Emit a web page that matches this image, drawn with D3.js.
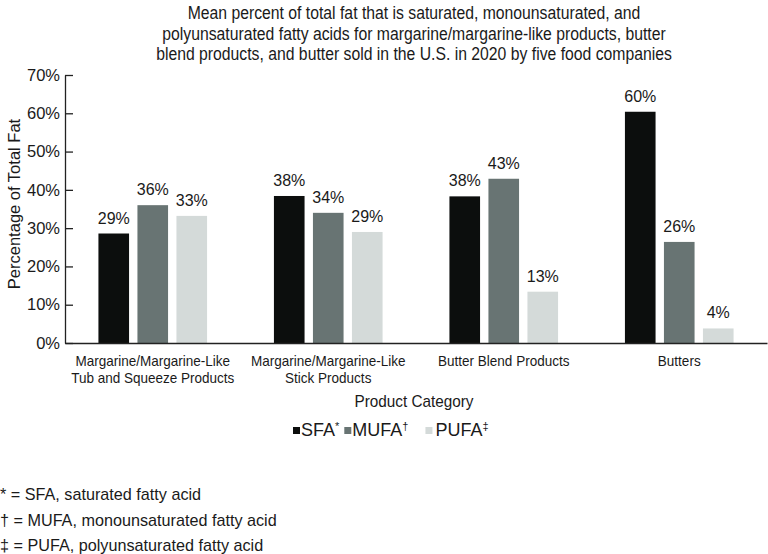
<!DOCTYPE html>
<html>
<head>
<meta charset="utf-8">
<script src="https://cdn.jsdelivr.net/npm/d3@7"></script>
<style>
  html, body { margin: 0; padding: 0; background: #fff; }
  text { font-family: "Liberation Sans", Arial, sans-serif; fill: #1a1a1a; }
</style>
</head>
<body>
<svg id="chart" width="768" height="554"></svg>
<script>
// ---- Data ----
const categories = [
  "Margarine/Margarine-Like Tub and Squeeze Products",
  "Margarine/Margarine-Like Stick Products",
  "Butter Blend Products",
  "Butters"
];
const categoryLabelLines = [
  ["Margarine/Margarine-Like", "Tub and Squeeze Products"],
  ["Margarine/Margarine-Like", "Stick Products"],
  ["Butter Blend Products"],
  ["Butters"]
];
const seriesNames = ["SFA", "MUFA", "PUFA"];
const seriesMarks = ["*", "†", "‡"];
const sfaValues  = [0.286, 0.384, 0.383, 0.604];
const mufaValues = [0.360, 0.340, 0.429, 0.264];
const pufaValues = [0.332, 0.290, 0.134, 0.038];
const yTicks = [0, 0.1, 0.2, 0.3, 0.4, 0.5, 0.6, 0.7];
const titleLines = [
  "Mean percent of total fat that is saturated, monounsaturated, and",
  "polyunsaturated fatty acids for margarine/margarine-like products, butter",
  "blend products, and butter sold in the U.S. in 2020 by five food companies"
];
const footnotes = [
  "* = SFA, saturated fatty acid",
  "† = MUFA, monounsaturated fatty acid",
  "‡ = PUFA, polyunsaturated fatty acid"
];

const colors = { SFA: "#0c0e0d", MUFA: "#687473", PUFA: "#d4dad9" };
const valuesBySeries = { SFA: sfaValues, MUFA: mufaValues, PUFA: pufaValues };

const svg = d3.select("#chart");
const plotLeft = 65, plotRight = 767, plotTop = 75, plotBottom = 343;
const condense = 0.9; // reference typeface is slightly condensed

function squeeze(sel) {
  sel.each(function () {
    const w = this.getComputedTextLength();
    d3.select(this).attr("textLength", w * condense).attr("lengthAdjust", "spacingAndGlyphs");
  });
}

const y = d3.scaleLinear().domain([0, 0.7]).range([plotBottom, plotTop]);
const x0 = d3.scaleBand().domain(categories).range([plotLeft, plotRight])
  .paddingInner(0.381).paddingOuter(0.1905);
const x1 = d3.scaleBand().domain(seriesNames).range([0, x0.bandwidth()])
  .paddingInner(0.215).paddingOuter(0);

// Title
svg.append("g").selectAll("text").data(titleLines).join("text")
  .attr("x", 414).attr("y", (d, i) => 19 + i * 20.5)
  .attr("text-anchor", "middle")
  .style("font-size", "17.5px")
  .text(d => d)
  .call(squeeze);

// Bars
const groups = svg.append("g").selectAll("g").data(categories).join("g")
  .attr("transform", d => `translate(${x0(d)},0)`);

groups.selectAll("rect")
  .data((d, i) => seriesNames.map(s => ({ s, v: valuesBySeries[s][i] })))
  .join("rect")
  .attr("x", d => x1(d.s))
  .attr("y", d => y(d.v))
  .attr("width", x1.bandwidth())
  .attr("height", d => y(0) - y(d.v))
  .attr("fill", d => colors[d.s]);

const fmt = d3.format(".0%");
groups.selectAll("text.val")
  .data((d, i) => seriesNames.map(s => ({ s, v: valuesBySeries[s][i] })))
  .join("text").attr("class", "val")
  .attr("x", d => x1(d.s) + x1.bandwidth() / 2)
  .attr("y", d => y(d.v) - 10)
  .attr("text-anchor", "middle")
  .style("font-size", "16px")
  .text(d => fmt(d.v));

// Y axis
const yAxis = d3.axisLeft(y).tickValues(yTicks).tickFormat(fmt)
  .tickSizeInner(-8).tickSizeOuter(0).tickPadding(5);
const yg = svg.append("g").attr("transform", `translate(${plotLeft},0)`).call(yAxis);
yg.select(".domain").attr("stroke", "#222").attr("stroke-width", 1.3);
yg.selectAll(".tick line").attr("stroke", "#222").attr("stroke-width", 1.3);
yg.selectAll(".tick text").style("font-size", "16.5px")
  .style("font-family", "'Liberation Sans', Arial, sans-serif").attr("fill", "#1a1a1a");

// X axis line
const xAxis = d3.axisBottom(x0).tickSize(0).tickSizeOuter(0).tickFormat("");
const xg = svg.append("g").attr("transform", `translate(0,${plotBottom})`).call(xAxis);
xg.select(".domain").attr("stroke", "#222").attr("stroke-width", 1.5);

// X labels
const xl = svg.append("g").selectAll("text").data(categories).join("text")
  .attr("x", d => x0(d) + x0.bandwidth() / 2)
  .attr("y", 366)
  .attr("text-anchor", "middle")
  .style("font-size", "15px");
xl.selectAll("tspan").data((d, i) => categoryLabelLines[i]).join("tspan")
  .attr("x", function () { return d3.select(this.parentNode).attr("x"); })
  .attr("dy", (d, i) => i === 0 ? 0 : 16.5)
  .text(d => d)
  .each(function () {
    const w = this.getComputedTextLength();
    d3.select(this).attr("textLength", w * condense).attr("lengthAdjust", "spacingAndGlyphs");
  });

// Axis titles
svg.append("text").attr("x", 414).attr("y", 407).attr("text-anchor", "middle")
  .style("font-size", "17px").text("Product Category").call(squeeze);
svg.append("text").attr("transform", "translate(20,204) rotate(-90)")
  .attr("text-anchor", "middle").style("font-size", "16.5px")
  .text("Percentage of Total Fat");

// Legend
const legend = svg.append("g");
let lx = 293;
const gapsAfter = [5, 17, 0];
seriesNames.forEach((s, i) => {
  legend.append("rect").attr("x", lx).attr("y", 427).attr("width", 7).attr("height", 7)
    .attr("fill", colors[s]);
  const tx = lx + (i === 2 ? 10 : 8);
  const t = legend.append("text").attr("x", tx).attr("y", 436)
    .style("font-size", "18px");
  t.append("tspan").text(s);
  t.append("tspan").attr("dy", -6).style("font-size", "11px").text(seriesMarks[i]);
  const w = t.node().getComputedTextLength();
  lx = tx + w + gapsAfter[i];
});

// Footnotes
svg.append("g").selectAll("text").data(footnotes).join("text")
  .attr("x", 0).attr("y", (d, i) => 500 + i * 25.5)
  .style("font-size", "16.2px")
  .text(d => d);
</script>
</body>
</html>
